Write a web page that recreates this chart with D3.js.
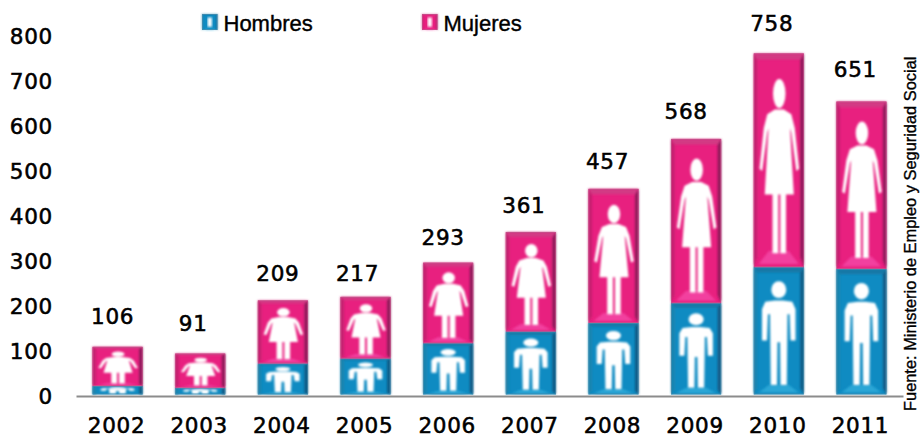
<!DOCTYPE html>
<html>
<head>
<meta charset="utf-8">
<script src="https://cdn.jsdelivr.net/npm/d3@7"></script>
<style>
  html, body { margin: 0; padding: 0; background: #fff; }
  svg { display: block; }
  text { fill: #000; }
  .num { font-family: "DejaVu Sans", sans-serif; font-size: 21.5px; letter-spacing: 0.7px; stroke: #000; stroke-width: 0.55px; }
  .legend { font-family: "Liberation Sans", sans-serif; font-size: 22px; stroke: #000; stroke-width: 0.4px; }
  .source { font-family: "Liberation Sans", sans-serif; font-size: 16.4px; stroke: #000; stroke-width: 0.35px; }
</style>
</head>
<body>
<div id="chart-area"></div>
<script>
var years = ["2002","2003","2004","2005","2006","2007","2008","2009","2010","2011"];
var totals = [106,91,209,217,293,361,457,568,758,651];
var hombres = [19,15,69,80,114,140,159,203,283,279];
var mujeres = [87,76,140,137,179,221,298,365,475,372];
var yTicks = [0,100,200,300,400,500,600,700,800];

// hand placed total labels in the original, offset from the bar
var labelDx = [-5,-7,-5,-8,-5,-7,-6,-10,-7,-6];
var labelDy = [-31,-30,-27,-24,-25,-27,-28,-28,-30,-32];

var width = 920;
var height = 434;

var svg = d3.select("#chart-area").append("svg")
  .attr("width", width)
  .attr("height", height);

var defs = svg.append("defs");
defs.append("filter").attr("id", "soft")
  .attr("x", "-10%").attr("y", "-10%").attr("width", "120%").attr("height", "120%")
  .append("feGaussianBlur").attr("stdDeviation", 0.9);
defs.append("filter").attr("id", "softer")
  .attr("x", "-10%").attr("y", "-10%").attr("width", "120%").attr("height", "120%")
  .append("feGaussianBlur").attr("stdDeviation", 0.8);

var x = d3.scaleBand()
  .domain(years)
  .range([76, 903])
  .paddingInner(0.394)
  .paddingOuter(0.2);

var y = d3.scaleLinear()
  .domain([0, 800])
  .range([394.5, 34.5]);

var pink = {main: "#e8207f", left: "#c4206f", right: "#8c1c5a", top: "#d23a84", bottom: "#f23f9f", edge: "#b9628f"};
var blue = {main: "#0f8bc2", left: "#1a84ae", right: "#125a84", top: "#1878a6", bottom: "#2aa6d6", edge: "#5f8ea6"};

// figure outlines in unit square of the tile, left half only, mirrored below
var womanHalf = [[.42,.262],[.27,.285],[.2,.35],[.115,.54],[.17,.55],[.27,.37],[.295,.35],[.22,.66],[.375,.66],[.375,.935],[.49,.935],[.49,.66]];
var manHalf = [[.42,.262],[.23,.272],[.165,.33],[.165,.575],[.265,.575],[.285,.37],[.325,.37],[.34,.925],[.465,.925],[.475,.59]];
// the legend swatch is too small to show the figure, only a pale block is left of it
var swatchHalf = [[.36,.22],[.36,.8]];

var line = d3.line();

function mirror(half, cx) {
  var right = half.slice().reverse().map(function(p) { return [2 * cx - p[0], p[1]]; });
  return half.concat(right);
}

function drawTile(g, x0, y0, w, h, pal, half, head, cx) {
  var sx = d3.scaleLinear().domain([0, 1]).range([x0, x0 + w]);
  var sy = d3.scaleLinear().domain([0, 1]).range([y0, y0 + h]);
  var poly = function(pts) {
    return line(pts.map(function(p) { return [sx(p[0]), sy(p[1])]; })) + "Z";
  };
  var ix = 0.07, iy = Math.min(0.05, 4 / h + 0.01), by = 0.05;

  g.append("rect").attr("x", x0).attr("y", y0).attr("width", w).attr("height", h).attr("fill", pal.main);
  var bevel = g.append("g").attr("filter", "url(#soft)");
  bevel.append("path").attr("fill", pal.left).attr("d", poly([[0,0],[ix,iy],[ix,1-by],[0,1]]));
  bevel.append("path").attr("fill", pal.right).attr("d", poly([[1,0],[1-ix,iy],[1-ix,1-by],[1,1]]));
  bevel.append("path").attr("fill", pal.top).attr("d", poly([[0,0],[1,0],[1-ix,iy],[ix,iy]]));
  bevel.append("path").attr("fill", pal.bottom).attr("d", poly([[.1,.985],[.9,.985],[.7,.925],[.3,.925]]));

  var fig = g.append("g").attr("filter", "url(#softer)").attr("fill", "#fff");
  fig.append("path").attr("d", poly(mirror(half, cx)));
  if (head) {
    fig.append("ellipse")
      .attr("cx", sx(cx)).attr("cy", sy(head[0]))
      .attr("rx", w * head[1]).attr("ry", h * head[2]);
  }

  g.append("rect").attr("x", x0 + 0.5).attr("y", y0 + 0.5).attr("width", w - 1).attr("height", h - 1)
    .attr("fill", "none").attr("stroke", pal.edge).attr("stroke-width", 0.8).attr("stroke-opacity", 0.7);
}

var womanHead = [.1875, .125, .068];
var manHead = [.177, .15, .066];

years.forEach(function(yr, i) {
  var bw = x.bandwidth();
  var g = svg.append("g").attr("class", "bar");
  drawTile(g, x(yr), y(hombres[i]), bw, y(0) - y(hombres[i]), blue, manHalf, manHead, 0.5);
  drawTile(g, x(yr), y(hombres[i] + mujeres[i]), bw, y(hombres[i]) - y(hombres[i] + mujeres[i]), pink, womanHalf, womanHead, 0.51);
});

// Left axis
var leftAxis = d3.axisLeft(y).tickValues(yTicks).tickSize(0).tickPadding(0);
var yg = svg.append("g")
  .attr("transform", "translate(53, 2.5)")
  .call(leftAxis);
yg.select(".domain").remove();
yg.selectAll("text").attr("class", "num").attr("x", 0).attr("text-anchor", "end");

// Bottom axis
var bottomAxis = d3.axisBottom(x).tickSize(0).tickSizeOuter(0);
var xg = svg.append("g")
  .attr("transform", "translate(0, 396)")
  .call(bottomAxis);
xg.select(".domain").attr("stroke", "#8c8c8c").attr("stroke-width", 2);
xg.selectAll("text").attr("class", "num").attr("y", 21.5).attr("dx", -1);

// Totals
svg.selectAll(".total").data(totals).enter().append("text")
  .attr("class", "num total")
  .attr("text-anchor", "middle")
  .attr("dy", "0.36em")
  .attr("x", function(d, i) { return x(years[i]) + x.bandwidth() / 2 + labelDx[i]; })
  .attr("y", function(d, i) { return y(d) + labelDy[i]; })
  .text(function(d) { return d; });

// Legend
var legendNames = ["Hombres", "Mujeres"];
var legendX = [202, 422];
var legendPal = [blue, pink];
legendNames.forEach(function(name, i) {
  var row = svg.append("g").attr("class", "legend-row");
  drawTile(row, legendX[i], 14, 15.5, 16, legendPal[i], swatchHalf, null, 0.5);
  row.append("text")
    .attr("class", "legend")
    .attr("x", legendX[i] + 21.5)
    .attr("y", 31)
    .text(name);
});

// Source
svg.append("text")
  .attr("class", "source")
  .attr("transform", "translate(916, 411) rotate(-90)")
  .text("Fuente: Ministerio de Empleo y Seguridad Social");
</script>
</body>
</html>
